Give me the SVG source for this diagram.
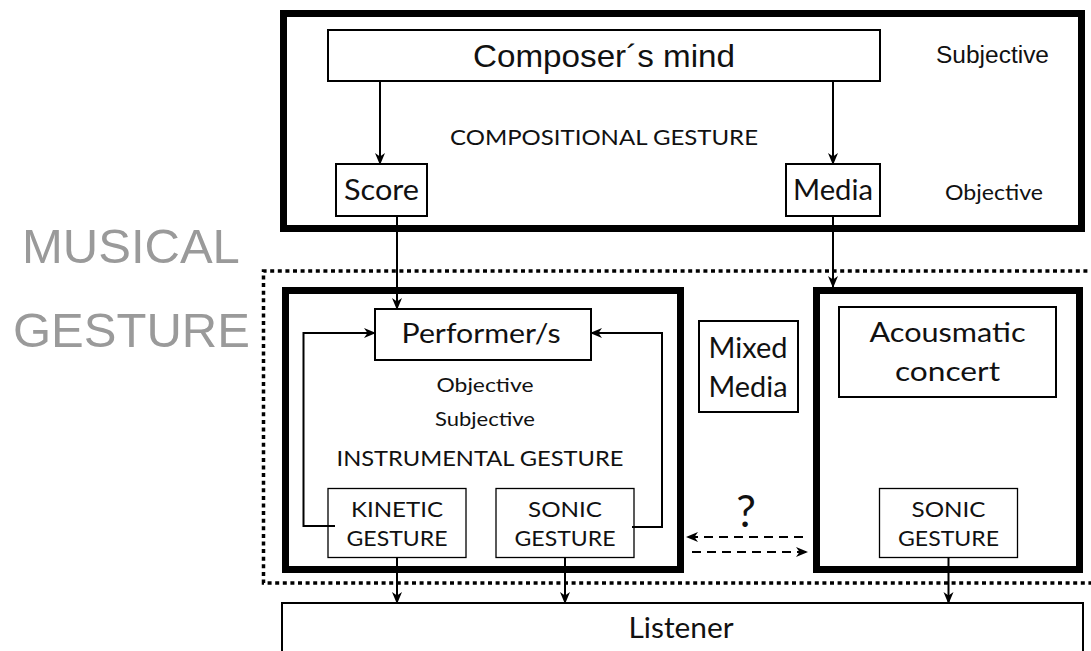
<svg xmlns="http://www.w3.org/2000/svg" width="1091" height="651" viewBox="0 0 1091 651">
  <style>
    .frame { fill: none; stroke: #000; stroke-width: 7; }
    .box { fill: #fff; stroke: #000; stroke-width: 2; }
    .thin { fill: #fff; stroke: #000; stroke-width: 1.3; }
    .dotted { fill: none; stroke: #000; stroke-width: 3.5; stroke-dasharray: 4 3.6; }
    .link { fill: none; stroke: #000; stroke-width: 2; }
    .dash { fill: none; stroke: #000; stroke-width: 2; stroke-dasharray: 9 6; }
    .arial { font-family: "Liberation Sans", Arial, sans-serif; fill: #111; }
    .gill { font-family: Lato, "Noto Sans", sans-serif; fill: #111; }
    .big { font-family: "Liberation Sans", Arial, sans-serif; fill: #9a9a9a; font-size: 49px; }
    .mid { text-anchor: middle; }
  </style>
  <defs>
    <marker id="head" viewBox="0 0 12 12" refX="11" refY="6" markerWidth="12" markerHeight="12" markerUnits="userSpaceOnUse" orient="auto">
      <path d="M0,1 L12,6 L0,11 L3.5,6 z" fill="#000"/>
    </marker>
  </defs>

  <rect width="1091" height="651" fill="#fff"/>

  <!-- side title -->
  <g id="title">
    <text class="big" x="22" y="263">MUSICAL</text>
    <text class="big" x="13" y="347">GESTURE</text>
  </g>

  <!-- dotted grouping of the live domain (open on the right edge) -->
  <path id="musical-gesture-zone" class="dotted" d="M1095,271 H263.5 V583 H1095"/>

  <!-- compositional gesture frame -->
  <g id="compositional">
    <rect class="frame" x="283.5" y="13.5" width="798" height="215"/>
    <text class="gill mid" x="604" y="145" font-size="22" textLength="308" lengthAdjust="spacingAndGlyphs">COMPOSITIONAL GESTURE</text>
    <text class="arial" x="936" y="63" font-size="23" textLength="113" lengthAdjust="spacingAndGlyphs">Subjective</text>
    <text class="gill" x="945" y="200" font-size="21" textLength="98" lengthAdjust="spacingAndGlyphs">Objective</text>
  </g>

  <g id="composer">
    <rect class="box" x="328" y="30" width="552" height="51"/>
    <text class="arial mid" x="604" y="67" font-size="32" textLength="262" lengthAdjust="spacingAndGlyphs">Composer´s mind</text>
  </g>

  <g id="score">
    <rect class="box" x="336" y="164" width="91" height="52"/>
    <text class="gill mid" x="381.5" y="200" font-size="28" textLength="75" lengthAdjust="spacingAndGlyphs">Score</text>
  </g>

  <g id="media">
    <rect class="box" x="786" y="164" width="94" height="52"/>
    <text class="gill mid" x="833" y="200" font-size="28" textLength="80" lengthAdjust="spacingAndGlyphs">Media</text>
  </g>

  <!-- instrumental gesture frame -->
  <g id="instrumental">
    <rect class="frame" x="285.5" y="290.5" width="395" height="279"/>
    <text class="gill mid" x="485" y="392" font-size="20" textLength="97" lengthAdjust="spacingAndGlyphs">Objective</text>
    <text class="gill mid" x="485" y="426" font-size="20" textLength="100" lengthAdjust="spacingAndGlyphs">Subjective</text>
    <text class="gill mid" x="480" y="466" font-size="22" textLength="287" lengthAdjust="spacingAndGlyphs">INSTRUMENTAL GESTURE</text>
  </g>

  <g id="performer">
    <rect class="box" x="375" y="309" width="216" height="51"/>
    <text class="gill mid" x="481" y="343" font-size="26" textLength="159" lengthAdjust="spacingAndGlyphs">Performer/s</text>
  </g>

  <g id="kinetic">
    <rect class="thin" x="328" y="488.5" width="138" height="69"/>
    <text class="gill mid" x="397" y="517" font-size="22" textLength="92" lengthAdjust="spacingAndGlyphs">KINETIC</text>
    <text class="gill mid" x="397" y="546" font-size="22" textLength="101" lengthAdjust="spacingAndGlyphs">GESTURE</text>
  </g>

  <g id="sonic-instrumental">
    <rect class="thin" x="496" y="488.5" width="138" height="69"/>
    <text class="gill mid" x="565" y="517" font-size="22" textLength="74" lengthAdjust="spacingAndGlyphs">SONIC</text>
    <text class="gill mid" x="565" y="546" font-size="22" textLength="101" lengthAdjust="spacingAndGlyphs">GESTURE</text>
  </g>

  <g id="mixed-media">
    <rect class="box" x="699" y="321" width="99" height="91"/>
    <text class="gill mid" x="748" y="358" font-size="28" textLength="79" lengthAdjust="spacingAndGlyphs">Mixed</text>
    <text class="gill mid" x="748" y="397" font-size="28" textLength="79" lengthAdjust="spacingAndGlyphs">Media</text>
  </g>

  <!-- acousmatic frame -->
  <g id="acousmatic">
    <rect class="frame" x="816.5" y="290.5" width="263" height="279"/>
    <rect class="box" x="839" y="307" width="217" height="90"/>
    <text class="gill mid" x="947.5" y="342" font-size="27" textLength="156" lengthAdjust="spacingAndGlyphs">Acousmatic</text>
    <text class="gill mid" x="947.5" y="381" font-size="27" textLength="105" lengthAdjust="spacingAndGlyphs">concert</text>
  </g>

  <g id="sonic-acousmatic">
    <rect class="thin" x="879.5" y="488.5" width="138" height="69"/>
    <text class="gill mid" x="948.5" y="517" font-size="22" textLength="74" lengthAdjust="spacingAndGlyphs">SONIC</text>
    <text class="gill mid" x="948.5" y="546" font-size="22" textLength="101" lengthAdjust="spacingAndGlyphs">GESTURE</text>
  </g>

  <g id="listener">
    <rect class="box" x="282" y="603" width="801" height="60" stroke-width="2.5"/>
    <text class="gill mid" x="681" y="638" font-size="28" textLength="105" lengthAdjust="spacingAndGlyphs">Listener</text>
  </g>

  <text id="question" class="gill mid" x="746" y="527" font-size="44">?</text>

  <!-- connectors -->
  <g id="connectors">
    <line class="link" x1="380" y1="81" x2="380" y2="164" marker-end="url(#head)"/>
    <line class="link" x1="833" y1="81" x2="833" y2="164" marker-end="url(#head)"/>
    <line class="link" x1="397" y1="216" x2="397" y2="309" marker-end="url(#head)"/>
    <line class="link" x1="833" y1="216" x2="833" y2="287" marker-end="url(#head)"/>
    <polyline class="link" points="335,526 303.5,526 303.5,333 375,333" marker-end="url(#head)"/>
    <polyline class="link" points="632,527 662,527 662,333 591,333" marker-end="url(#head)"/>
    <line class="link" x1="397" y1="557.5" x2="397" y2="603" marker-end="url(#head)"/>
    <line class="link" x1="565" y1="557.5" x2="565" y2="603" marker-end="url(#head)"/>
    <line class="link" x1="948.5" y1="557.5" x2="948.5" y2="603" marker-end="url(#head)"/>
    <line class="dash" x1="803" y1="537" x2="687" y2="537" marker-end="url(#head)"/>
    <line class="dash" x1="692" y1="552" x2="807" y2="552" marker-end="url(#head)"/>
  </g>
</svg>
